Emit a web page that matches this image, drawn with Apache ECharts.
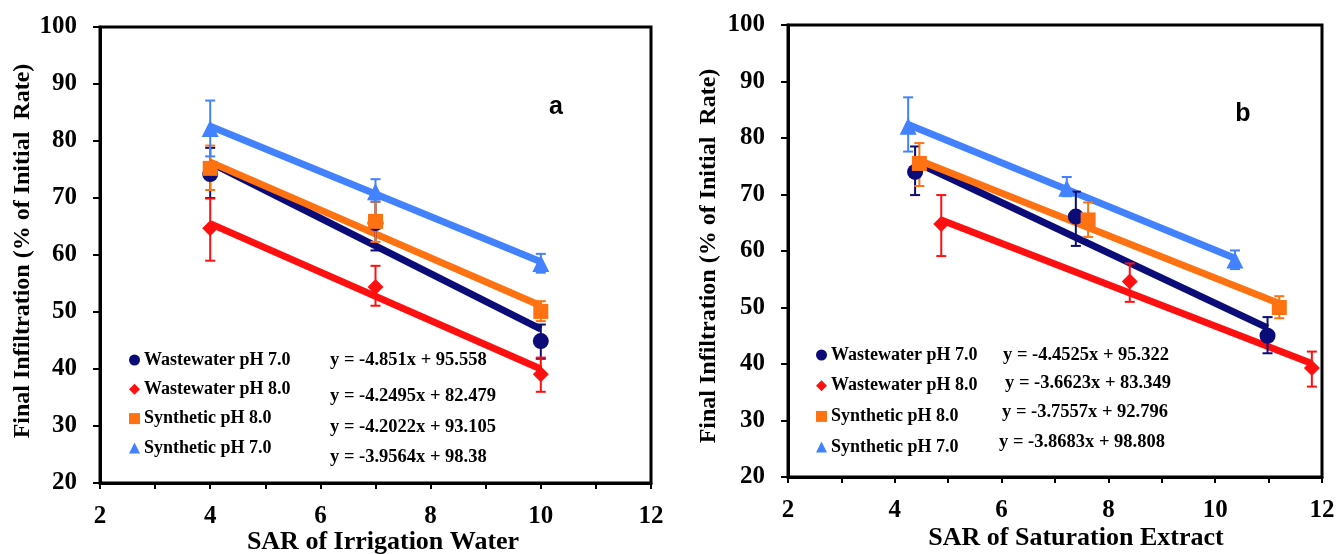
<!DOCTYPE html>
<html>
<head>
<meta charset="utf-8">
<script src="https://cdn.jsdelivr.net/npm/echarts@6/dist/echarts.min.js"></script>
<style>
html,body{margin:0;padding:0;background:#fff;}
#c{width:1338px;height:554px;}
</style>
</head>
<body>
<div id="c"></div>
<script>
// ---------- DATA ----------
const seriesNames = ['Wastewater pH 7.0', 'Wastewater pH 8.0', 'Synthetic pH 8.0', 'Synthetic pH 7.0'];
const seriesColors = ['#0c0c78', '#ff1010', '#ff7212', '#4282ff'];
const seriesSymbols = ['circle', 'diamond', 'rect', 'triangle'];
const xTicks = [2, 4, 6, 8, 10, 12];
const yTicks = [20, 30, 40, 50, 60, 70, 80, 90, 100];

// Panel a : SAR of irrigation water
const xA = [4, 7, 10];
const ww7A = [74.2, 65.6, 44.9];
const ww8A = [64.7, 54.4, 39.1];
const syn8A = [75.2, 65.9, 50.1];
const syn7A = [82.2, 71.1, 58.5];
const ww7ALow = [70.0, 60.8, 41.8];
const ww7AHigh = [78.8, 70.0, 47.8];
const ww8ALow = [59.0, 51.1, 36.0];
const ww8AHigh = [69.9, 58.1, 42.0];
const syn8ALow = [71.4, 62.3, 48.4];
const syn8AHigh = [79.2, 69.3, 51.9];
const syn7ALow = [77.3, 69.4, 56.9];
const syn7AHigh = [87.1, 73.3, 60.2];
// trend line end points
const trendAX = [4, 10];
const ww7ATrend = [76.2, 47.0];
const ww8ATrend = [65.5, 40.0];
const syn8ATrend = [76.3, 51.1];
const syn7ATrend = [82.6, 58.8];
const eqA = ['y = -4.851x + 95.558', 'y = -4.2495x + 82.479', 'y = -4.2022x + 93.105', 'y = -3.9564x + 98.38'];

// Panel b : SAR of saturation extract
const ww7BX = [4.38, 7.39, 10.98];
const ww8BX = [4.87, 8.40, 11.81];
const syn8BX = [4.46, 7.62, 11.20];
const syn7BX = [4.25, 7.22, 10.37];
const ww7B = [74.0, 66.1, 45.0];
const ww8B = [64.8, 54.6, 39.3];
const syn8B = [75.5, 65.5, 50.0];
const syn7B = [82.1, 71.1, 58.4];
const ww7BLow = [69.9, 60.9, 41.9];
const ww7BHigh = [78.5, 70.5, 48.3];
const ww8BLow = [59.1, 51.0, 36.0];
const ww8BHigh = [69.9, 57.8, 42.2];
const syn8BLow = [71.5, 62.5, 48.1];
const syn8BHigh = [79.1, 68.6, 52.0];
const syn7BLow = [77.6, 69.7, 56.8];
const syn7BHigh = [87.2, 73.1, 60.1];
const ww7BTrend = [75.8, 46.4];
const ww8BTrend = [65.5, 40.1];
const syn8BTrend = [76.0, 50.7];
const syn7BTrend = [82.4, 58.7];
const eqB = ['y = -4.4525x + 95.322', 'y = -3.6623x + 83.349', 'y = -3.7557x + 92.796', 'y = -3.8683x + 98.808'];

const xTitleA = 'SAR of Irrigation Water';
const xTitleB = 'SAR of Saturation Extract';
const yTitle = 'Final Infiltration (% of Initial  Rate)';

// ---------- BUILD ----------
const SERIF = '"Liberation Serif", "Times New Roman", serif';

const panelA = {
  xs: [xA, xA, xA, xA],
  ys: [ww7A, ww8A, syn8A, syn7A],
  lows: [ww7ALow, ww8ALow, syn8ALow, syn7ALow],
  highs: [ww7AHigh, ww8AHigh, syn8AHigh, syn7AHigh],
  tx: [trendAX, trendAX, trendAX, trendAX],
  ty: [ww7ATrend, ww8ATrend, syn8ATrend, syn7ATrend]
};
const panelB = {
  xs: [ww7BX, ww8BX, syn8BX, syn7BX],
  ys: [ww7B, ww8B, syn8B, syn7B],
  lows: [ww7BLow, ww8BLow, syn8BLow, syn7BLow],
  highs: [ww7BHigh, ww8BHigh, syn8BHigh, syn7BHigh],
  tx: [[ww7BX[0], ww7BX[2]], [ww8BX[0], ww8BX[2]], [syn8BX[0], syn8BX[2]], [syn7BX[0], syn7BX[2]]],
  ty: [ww7BTrend, ww8BTrend, syn8BTrend, syn7BTrend]
};

function xAxisDef(gi) {
  return {
    type: 'value', gridIndex: gi, min: xTicks[0], max: xTicks[xTicks.length - 1], interval: 1,
    axisLine: { show: true, onZero: false, lineStyle: { color: '#000', width: 3 } },
    axisTick: { show: true, inside: false, length: 6, lineStyle: { color: '#000', width: 2 } },
    axisLabel: {
      margin: 21, color: '#000', fontFamily: SERIF, fontWeight: 'bold', fontSize: 25,
      formatter: v => (xTicks.indexOf(v) >= 0 ? String(v) : '')
    },
    splitLine: { show: false }
  };
}
function yAxisDef(gi) {
  return {
    type: 'value', gridIndex: gi, min: yTicks[0], max: yTicks[yTicks.length - 1], interval: 10,
    axisLine: { show: true, onZero: false, lineStyle: { color: '#000', width: 3 } },
    axisTick: { show: true, inside: false, length: 7, lineStyle: { color: '#000', width: 2 } },
    axisLabel: { margin: 23, color: '#000', fontFamily: SERIF, fontWeight: 'bold', fontSize: 25 },
    splitLine: { show: false }
  };
}

const series = [];
function addPanel(p, gi) {
  for (let i = 0; i < 4; i++) {
    series.push({
      type: 'line', name: 'trend' + gi + '_' + i, xAxisIndex: gi, yAxisIndex: gi,
      data: p.tx[i].map((x, k) => [x, p.ty[i][k]]),
      showSymbol: false, symbol: 'none', silent: true, z: 2,
      lineStyle: { color: seriesColors[i], width: 7 }
    });
  }
  for (let i = 0; i < 4; i++) {
    const col = seriesColors[i];
    series.push({
      type: 'custom', name: 'err' + gi + '_' + i, xAxisIndex: gi, yAxisIndex: gi, silent: true, z: 3,
      data: p.xs[i].map((x, k) => [x, p.lows[i][k], p.highs[i][k]]),
      encode: { x: 0, y: [1, 2] },
      renderItem: function (params, api) {
        const x = api.value(0);
        const a = api.coord([x, api.value(1)]);
        const b = api.coord([x, api.value(2)]);
        const w = 5;
        const st = { stroke: col, lineWidth: 2 };
        return {
          type: 'group', children: [
            { type: 'line', shape: { x1: a[0], y1: a[1], x2: b[0], y2: b[1] }, style: st },
            { type: 'line', shape: { x1: a[0] - w, y1: a[1], x2: a[0] + w, y2: a[1] }, style: st },
            { type: 'line', shape: { x1: b[0] - w, y1: b[1], x2: b[0] + w, y2: b[1] }, style: st }
          ]
        };
      }
    });
  }
  for (let i = 0; i < 4; i++) {
    const sizes = [16, 16, 15, 17];
    series.push({
      type: 'scatter', name: seriesNames[i], xAxisIndex: gi, yAxisIndex: gi, z: 4,
      symbol: seriesSymbols[i], symbolSize: sizes[i],
      itemStyle: { color: seriesColors[i], opacity: 1 },
      data: p.xs[i].map((x, k) => [x, p.ys[i][k]])
    });
  }
}
addPanel(panelA, 0);
addPanel(panelB, 1);

function legendDef(left, top, gap) {
  return {
    orient: 'vertical', left: left, top: top, itemGap: gap,
    itemWidth: 11, itemHeight: 11, padding: 0,
    data: seriesNames.map(n => ({ name: n })),
    selectedMode: false,
    textStyle: { color: '#000', fontFamily: SERIF, fontWeight: 'bold', fontSize: 18, lineHeight: 18, padding: [0, 0, 0, -1] }
  };
}

const graphics = [];
function eqText(txt, x, y) {
  graphics.push({
    type: 'text', x: x, y: y, silent: true,
    style: { text: txt, fill: '#000', fontFamily: SERIF, fontWeight: 'bold', fontSize: 18.5, verticalAlign: 'middle', align: 'left' }
  });
}
const eqAPos = [[330, 360], [330, 396], [330, 427], [330, 457]];
const eqBPos = [[1003, 355], [1005, 383], [1002, 412], [999, 442]];
eqA.forEach((t, i) => eqText(t, eqAPos[i][0], eqAPos[i][1]));
eqB.forEach((t, i) => eqText(t, eqBPos[i][0], eqBPos[i][1]));
graphics.push({ type: 'text', x: 556, y: 107, style: { text: 'a', fill: '#000', fontFamily: '"Liberation Sans", Arial, sans-serif', fontWeight: 'bold', fontSize: 25, align: 'center', verticalAlign: 'middle' } });
graphics.push({ type: 'text', x: 1243, y: 114, style: { text: 'b', fill: '#000', fontFamily: '"Liberation Sans", Arial, sans-serif', fontWeight: 'bold', fontSize: 25, align: 'center', verticalAlign: 'middle' } });
graphics.push({ type: 'text', x: 383, y: 542, style: { text: xTitleA, fill: '#000', fontFamily: SERIF, fontWeight: 'bold', fontSize: 26, align: 'center', verticalAlign: 'middle' } });
graphics.push({ type: 'text', x: 1076, y: 538, style: { text: xTitleB, fill: '#000', fontFamily: SERIF, fontWeight: 'bold', fontSize: 26, align: 'center', verticalAlign: 'middle' } });
graphics.push({ type: 'text', x: 23, y: 251, rotation: Math.PI / 2, style: { text: yTitle, fill: '#000', fontFamily: SERIF, fontWeight: 'bold', fontSize: 24, align: 'center', verticalAlign: 'middle' } });
graphics.push({ type: 'text', x: 709, y: 256, rotation: Math.PI / 2, style: { text: yTitle, fill: '#000', fontFamily: SERIF, fontWeight: 'bold', fontSize: 24, align: 'center', verticalAlign: 'middle' } });

const option = {
  animation: false,
  backgroundColor: '#fff',
  grid: [
    { left: 100, top: 27, width: 551, height: 456, show: true, borderColor: '#000', borderWidth: 3, backgroundColor: 'transparent' },
    { left: 788, top: 25, width: 534, height: 452, show: true, borderColor: '#000', borderWidth: 3, backgroundColor: 'transparent' }
  ],
  xAxis: [xAxisDef(0), xAxisDef(1)],
  yAxis: [yAxisDef(0), yAxisDef(1)],
  legend: [legendDef(129, 351, 11.3), legendDef(816, 346, 12.7)],
  graphic: graphics,
  series: series
};

const chart = echarts.init(document.getElementById('c'), null, { renderer: 'canvas' });
chart.setOption(option);
</script>
</body>
</html>
